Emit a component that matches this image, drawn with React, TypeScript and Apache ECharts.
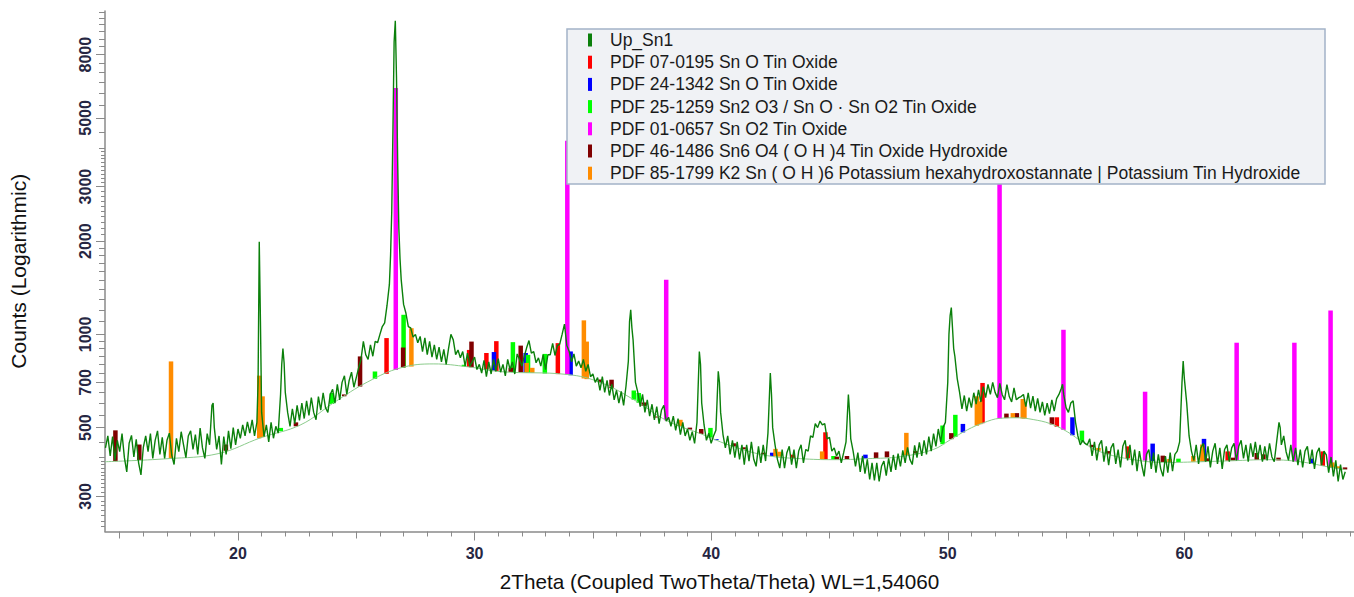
import React, { useEffect, useRef } from "react";
import * as echarts from "echarts";

// Measured scan Up_Sn1: counts from 14.4° 2θ in 0.1° steps
const SCAN_START = 14.4;
const SCAN_STEP = 0.1;
const scanCounts: number[] = [
  430, 470, 405, 468, 392, 455,
  418, 478, 400, 360, 445, 472, 402, 458, 385, 352,
  432, 470, 418, 478, 398, 455, 488, 410, 465, 398,
  455, 480, 408, 380, 462, 418, 485, 440, 400, 470,
  488, 425, 475, 410, 498, 430, 398, 478, 440, 590,
  500, 425, 470, 380, 468, 410, 488, 428, 500, 440,
  495, 462, 510, 470, 522, 480, 530, 470, 520, 1990,
  560, 468, 510, 450, 520, 462, 505, 480, 640, 900,
  650, 560, 505, 575, 515, 590, 528, 600, 535, 610,
  548, 625, 560, 530, 630, 570, 648, 580, 560, 640,
  665, 600, 690, 615, 700, 735, 640, 710, 755, 675,
  725, 780, 830, 950, 860, 830, 925, 850, 950, 940,
  1000, 1060, 1090, 1240, 1450, 2500, 8800, 6800, 2200, 1500,
  1250, 1170, 1060, 1050, 980, 1000, 940, 985, 880, 975,
  860, 950, 845, 925, 830, 910, 815, 895, 800, 900,
  1000, 960, 860, 890, 840, 880, 790, 870, 790, 815,
  845, 770, 800, 750, 825, 730, 815, 745, 830, 760,
  835, 755, 800, 735, 830, 770, 815, 745, 865, 830,
  790, 850, 905, 955, 870, 880, 810, 840, 790, 860,
  770, 860, 860, 935, 855, 920, 930, 1000, 1080, 920,
  880, 815, 865, 790, 820, 780, 830, 760, 800, 730,
  745, 700, 725, 660, 730, 650, 710, 635, 690, 615,
  660, 600, 655, 590, 680, 820, 1200, 960, 700, 650,
  585, 640, 560, 615, 545, 595, 530, 585, 515, 570,
  590, 525, 540, 505, 545, 490, 535, 475, 520, 470,
  495, 455, 485, 445, 520, 880, 600, 510, 455, 480,
  445, 470, 490, 760, 560, 475, 430, 470, 410, 455,
  400, 450, 395, 440, 380, 440, 390, 450, 395, 375,
  435, 385, 440, 390, 480, 750, 500, 440, 395, 370,
  425, 370, 415, 435, 380, 425, 370, 420, 440, 385,
  425, 420, 470, 465, 515, 500, 525, 510, 515, 460,
  465, 420, 430, 405, 420, 385, 415, 450, 640, 460,
  420, 375, 415, 360, 405, 355, 395, 340, 385, 338,
  385, 335, 375, 390, 350, 398, 360, 408, 365, 412,
  375, 422, 385, 432, 395, 380, 438, 400, 448, 405,
  455, 410, 468, 420, 478, 435, 495, 450, 500, 520,
  700, 1150, 1050, 850, 720, 650, 575, 635, 565, 625,
  580, 648, 595, 662, 605, 678, 625, 690, 640, 700,
  650, 625, 695, 640, 615, 688, 630, 605, 672, 615,
  625, 630, 640, 585, 648, 578, 632, 565, 622, 560,
  605, 548, 600, 555, 615, 565, 620, 640, 670, 640,
  580, 560, 600, 610, 520, 470, 440, 455, 445, 440,
  460, 405, 450, 392, 440, 455, 388, 435, 378, 430,
  445, 382, 425, 372, 435, 455, 392, 440, 378, 425,
  362, 420, 378, 348, 410, 425, 368, 415, 358, 410,
  368, 348, 405, 358, 415, 362, 410, 420, 450, 700,
  720, 600, 470, 420, 392, 440, 382, 430, 445, 388,
  435, 372, 420, 445, 382, 430, 368, 425, 440, 388,
  430, 445, 392, 435, 455, 398, 440, 388, 445, 402,
  450, 398, 440, 388, 435, 392, 445, 402, 388, 450,
  520, 440, 470, 418, 392, 440, 388, 430, 378, 425,
  372, 420, 435, 382, 425, 368, 415, 430, 378, 420,
  408, 358, 402, 348, 392, 335, 380, 340, 360,
];

// Extra samples on the sharp reflections, between the 0.1° steps: [2θ, counts]
const peakPoints: [number, number][] = [
  [18.95, 600], [20.85, 700], [20.95, 1100], [21.85, 800], [21.95, 810],
  [26.45, 1800], [26.55, 4600], [26.65, 10300], [26.75, 3600], [26.85, 1750],
  [36.55, 1100], [36.65, 1050], [39.55, 800], [40.35, 700], [42.55, 640],
  [45.85, 560], [50.05, 1000], [50.15, 1220], [50.25, 900], [54.85, 690],
  [59.95, 820], [64.05, 500],
];

// Fitted background under the scan: [2θ, counts]
const backgroundPoints: [number, number][] = [
  [14.38, 388], [17.04, 397], [19.16, 412], [20.97, 464], [22.66, 511],
  [24.05, 602], [25.49, 703], [26.88, 780], [28.28, 803], [29.71, 786],
  [31.11, 758], [33.94, 742], [35.33, 699], [36.72, 616], [38.16, 525],
  [39.55, 478], [40.95, 434], [42.38, 406], [43.78, 397], [45.17, 394],
  [46.61, 397], [48.0, 403], [49.39, 425], [50.11, 457], [50.83, 492],
  [51.5, 518], [52.22, 536], [52.94, 538], [53.61, 531], [54.33, 515],
  [55.05, 485], [55.73, 447], [56.44, 418], [57.84, 394], [59.27, 386],
  [60.67, 388], [62.06, 391], [63.5, 394], [64.89, 388], [66.28, 371],
  [66.83, 366],
];

// Reference pattern sticks: [2θ, top of stick in counts]
const pdf070195: [number, number][] = [
  [26.28, 973], [29.77, 891], [30.5, 871], [30.92, 951], [33.52, 937],
  [43.45, 409], [44.83, 483], [51.47, 697], [54.61, 540], [57.61, 435],
  [61.83, 419], [65.85, 419],
];
const pdf241342: [number, number][] = [
  [30.82, 877], [32.16, 871], [34.06, 881], [40.22, 459], [42.58, 415],
  [46.52, 409], [50.64, 514], [55.27, 540], [58.66, 444], [60.83, 460],
  [65.38, 397],
];
const pdf251259: [number, number][] = [
  [21.81, 499], [23.97, 647], [25.79, 759], [27.0, 1157], [29.55, 798],
  [31.62, 944], [32.26, 859], [32.97, 865], [36.73, 659], [36.94, 647],
  [39.97, 499], [45.17, 405], [49.78, 508], [50.32, 550], [55.67, 489],
  [59.75, 397],
];
const pdf010657: [number, number][] = [
  [26.67, 6250], [33.92, 4220], [38.1, 1500], [52.19, 3500], [54.89, 1035],
  [58.34, 653], [62.21, 940], [64.65, 940], [66.18, 1194],
];
const pdf461486: [number, number][] = [
  [14.82, 490], [15.83, 441], [19.49, 441], [22.45, 520], [24.49, 640],
  [25.16, 849], [26.98, 907], [29.87, 948], [31.53, 780], [31.95, 920],
  [35.33, 715], [35.79, 714], [37.15, 603], [37.65, 543], [39.1, 500],
  [39.58, 495], [40.95, 445], [41.37, 432], [42.21, 415], [45.31, 403],
  [45.74, 405], [46.97, 416], [47.43, 419], [48.63, 420], [50.15, 480],
  [52.48, 555], [52.92, 557], [54.4, 540], [56.09, 440], [56.79, 420],
  [59.09, 406], [60.95, 398], [62.05, 400], [63.06, 414], [63.34, 410],
  [63.98, 400], [66.79, 372],
];
const pdf851799: [number, number][] = [
  [17.17, 818], [20.9, 736], [21.04, 631], [27.33, 1047], [32.2, 809],
  [32.44, 780], [34.62, 1110], [34.74, 948], [38.7, 530], [42.72, 427],
  [42.86, 418], [44.69, 419], [48.25, 481], [51.23, 631], [51.37, 608],
  [52.75, 557], [53.17, 619], [53.24, 600], [56.37, 430], [59.37, 396],
  [60.38, 405], [60.76, 441], [66.25, 386], [66.48, 375],
];

// Axis ticks and labels
const xLabelValues = [20, 30, 40, 50, 60];
const xHalfTicks = [15, 25, 35, 45, 55, 65];
const xMinorTicks = [
  16, 17, 18, 19, 21, 22, 23, 24, 26, 27, 28, 29, 31, 32, 33, 34, 36, 37, 38, 39,
  41, 42, 43, 44, 46, 47, 48, 49, 51, 52, 53, 54, 56, 57, 58, 59, 61, 62, 63, 64, 66, 67,
];
const yLabelValues = [300, 500, 700, 1000, 2000, 3000, 5000, 8000];
const yMediumTicks = [
  400, 450, 550, 600, 650, 750, 800, 850, 900, 950,
  1100, 1200, 1300, 1400, 1500, 1600, 1700, 1800, 1900,
  4000, 4500, 5500, 6000, 6500, 7000, 7500, 8500, 9000, 9500, 10000, 10500, 11000,
];
const yShortTicks = [
  240, 250, 260, 270, 280, 290, 310, 320, 330, 340, 350, 360, 370, 380, 390,
  2100, 2200, 2300, 2400, 2500, 2600, 2700, 2800, 2900,
  3100, 3200, 3300, 3400, 3500, 3600, 3700, 3800, 3900,
];

const SCAN_NAME = "Up_Sn1";
const SCAN_COLOR = "#0b800b";
const phases = [
  { name: "PDF 07-0195 Sn O Tin Oxide", color: "#ff0000", sticks: pdf070195 },
  { name: "PDF 24-1342 Sn O Tin Oxide", color: "#0000ff", sticks: pdf241342 },
  { name: "PDF 25-1259 Sn2 O3 / Sn O · Sn O2 Tin Oxide", color: "#00ff00", sticks: pdf251259 },
  { name: "PDF 01-0657 Sn O2 Tin Oxide", color: "#ff00ff", sticks: pdf010657 },
  { name: "PDF 46-1486 Sn6 O4 ( O H )4 Tin Oxide Hydroxide", color: "#800000", sticks: pdf461486 },
  {
    name: "PDF 85-1799 K2 Sn ( O H )6 Potassium hexahydroxostannate | Potassium Tin Hydroxide",
    color: "#ff8c00",
    sticks: pdf851799,
  },
];

const X_MIN = 14.38;
const X_MAX = 67.17;
const Y_MIN = 231;
const Y_MAX = 11070;

const FONT = '"Liberation Sans", Arial, Helvetica, sans-serif';
const lg = (v: number) => Math.log10(v);

// background level (log counts) at a given angle, interpolated between fitted points
function backgroundLogAt(t: number): number {
  const pts = backgroundPoints;
  if (t <= pts[0][0]) return lg(pts[0][1]);
  for (let i = 1; i < pts.length; i++) {
    if (t <= pts[i][0]) {
      const [t0, c0] = pts[i - 1];
      const [t1, c1] = pts[i];
      const f = (t - t0) / (t1 - t0);
      return lg(c0) + f * (lg(c1) - lg(c0));
    }
  }
  return lg(pts[pts.length - 1][1]);
}

function buildOption(): any {
  const scan = scanCounts
    .map((c, i) => [Number((SCAN_START + i * SCAN_STEP).toFixed(2)), c] as [number, number])
    .concat(peakPoints)
    .sort((a, b) => a[0] - b[0])
    .map(([t, c]) => [t, lg(c)]);

  const stickSeries = phases.map((p) => ({
    type: "custom",
    name: p.name,
    silent: true,
    clip: true,
    itemStyle: { color: p.color },
    data: p.sticks.map(([t, c]) => [t, lg(c), backgroundLogAt(t)]),
    renderItem: (_params: any, api: any) => {
      const t = api.value(0);
      const top = api.coord([t, api.value(1)]);
      const base = api.coord([t, api.value(2)]);
      return {
        type: "rect",
        shape: { x: top[0] - 2.25, y: top[1], width: 4.5, height: Math.max(1, base[1] - top[1]) },
        style: { fill: p.color },
      };
    },
  }));

  const xCommon = {
    type: "value",
    min: X_MIN,
    max: X_MAX,
    position: "bottom",
    splitLine: { show: false },
  };
  const yCommon = {
    type: "value",
    min: lg(Y_MIN),
    max: lg(Y_MAX),
    position: "left",
    splitLine: { show: false },
  };
  const tickStyle = { color: "#8a8a8a", width: 1 };

  const legendRows = [{ name: SCAN_NAME, color: SCAN_COLOR }, ...phases];
  const rowY = (i: number) => 40 + i * 22.2;

  return {
    animation: false,
    grid: { left: 104, right: 0, top: 11, bottom: 65.5 },
    xAxis: [
      {
        ...xCommon,
        axisLine: { lineStyle: { color: "#8a8a8a", width: 1.5 } },
        axisTick: { customValues: xLabelValues, length: 9, lineStyle: tickStyle },
        axisLabel: {
          customValues: xLabelValues,
          margin: 14,
          color: "#262642",
          fontSize: 16,
          fontWeight: "bold",
          fontFamily: FONT,
        },
        name: "2Theta (Coupled TwoTheta/Theta) WL=1,54060",
        nameLocation: "middle",
        nameGap: 39,
        nameTextStyle: { fontSize: 20.7, color: "#111", fontFamily: FONT, padding: [0, 20, 0, 0] },
      },
      {
        ...xCommon,
        axisLine: { show: false },
        axisTick: { customValues: xHalfTicks, length: 7, lineStyle: tickStyle },
        axisLabel: { show: false },
      },
      {
        ...xCommon,
        axisLine: { show: false },
        axisTick: { customValues: xMinorTicks, length: 5, lineStyle: tickStyle },
        axisLabel: { show: false },
      },
    ],
    yAxis: [
      {
        ...yCommon,
        axisLine: { show: true, lineStyle: { color: "#8a8a8a", width: 1.5 } },
        axisTick: { show: true, customValues: yLabelValues.map(lg), length: 9, lineStyle: tickStyle },
        axisLabel: {
          customValues: yLabelValues.map(lg),
          rotate: 90,
          margin: 12,
          color: "#262642",
          fontSize: 16,
          fontWeight: "bold",
          fontFamily: FONT,
          formatter: (v: number) => String(Math.round(Math.pow(10, v))),
        },
        name: "Counts (Logarithmic)",
        nameLocation: "middle",
        nameRotate: 90,
        nameGap: 76,
        nameTextStyle: { fontSize: 21, color: "#111", fontFamily: FONT },
      },
      {
        ...yCommon,
        axisLine: { show: false },
        axisTick: { show: true, customValues: yMediumTicks.map(lg), length: 6, lineStyle: tickStyle },
        axisLabel: { show: false },
      },
      {
        ...yCommon,
        axisLine: { show: false },
        axisTick: { show: true, customValues: yShortTicks.map(lg), length: 4, lineStyle: tickStyle },
        axisLabel: { show: false },
      },
    ],
    series: [
      {
        type: "line",
        name: "background",
        data: backgroundPoints.map(([t, c]) => [t, lg(c)]),
        showSymbol: false,
        smooth: 0.4,
        silent: true,
        lineStyle: { color: "#8ccc8c", width: 1 },
      },
      {
        type: "line",
        name: SCAN_NAME,
        data: scan,
        showSymbol: false,
        silent: true,
        lineStyle: { color: SCAN_COLOR, width: 1.4 },
      },
      ...stickSeries,
    ],
    graphic: [
      {
        type: "rect",
        z: 50,
        shape: { x: 567, y: 29, width: 758, height: 155 },
        style: { fill: "#f0f2f5", stroke: "#a3b3c8", lineWidth: 1.5 },
      },
      ...legendRows.map((r, i) => ({
        type: "rect",
        z: 51,
        shape: { x: 588, y: rowY(i) - 6.5, width: 4, height: 13 },
        style: { fill: r.color },
      })),
      ...legendRows.map((r, i) => ({
        type: "text",
        z: 51,
        x: 610,
        y: rowY(i),
        style: {
          text: r.name,
          fill: "#1a1a1a",
          font: `17.5px ${FONT}`,
          verticalAlign: "middle",
          align: "left",
        },
      })),
    ],
  };
}

export default function App() {
  const ref = useRef<HTMLDivElement>(null);
  useEffect(() => {
    document.body.style.margin = "0";
    if (!ref.current) return;
    const chart = echarts.init(ref.current, undefined, { renderer: "svg" });
    chart.setOption(buildOption());
    return () => chart.dispose();
  }, []);
  return <div ref={ref} style={{ width: 1354, height: 597, background: "#fff" }} />;
}
